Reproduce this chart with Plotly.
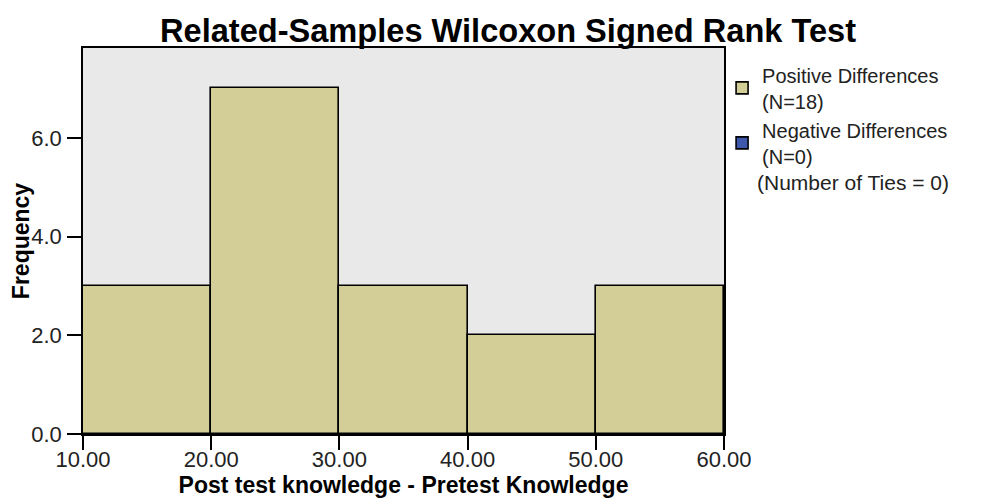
import plotly.graph_objects as go

bin_edges = [10, 20, 30, 40, 50, 60]
pos_counts = [3, 7, 3, 2, 3]
y_ticks = [0, 2, 4, 6]
x_ticks = [10, 20, 30, 40, 50, 60]

centers = [(a + b) / 2 for a, b in zip(bin_edges[:-1], bin_edges[1:])]
widths = [b - a for a, b in zip(bin_edges[:-1], bin_edges[1:])]

fig = go.Figure()
fig.add_trace(go.Bar(
    x=centers, y=pos_counts, width=widths,
    name="Positive Differences<br>(N=18)",
    marker=dict(color="#D3CE97", line=dict(color="#000000", width=1.6)),
))
fig.add_trace(go.Bar(
    x=[None], y=[None],
    name="Negative Differences<br>(N=0)",
    marker=dict(color="#3E58AC", line=dict(color="#000000", width=1.6)),
))

# page body has an 8px default margin, so the figure is drawn 8px smaller
fig.update_layout(
    width=989, height=491,
    paper_bgcolor="white",
    plot_bgcolor="#E9E9E9",
    margin=dict(l=75, r=273, t=40, b=65, autoexpand=False),
    font=dict(family="Liberation Sans, Arial", size=20, color="#222222"),
    title=dict(text="<b>Related-Samples Wilcoxon Signed Rank Test</b>",
               x=0.5056, xanchor="center", yref="container", y=0.955, yanchor="middle",
               font=dict(size=32.6, color="#000000")),
    barmode="overlay",
    bargap=0,
    showlegend=True,
    legend=dict(x=0.997, y=0.981, xanchor="left", yanchor="top",
                font=dict(size=20, color="#222222"),
                bgcolor="rgba(0,0,0,0)", tracegroupgap=0, itemwidth=30),
    annotations=[dict(text="(Number of Ties = 0)", xref="paper", yref="paper",
                      x=1.048, y=0.652, xanchor="left", yanchor="middle",
                      showarrow=False, font=dict(size=21, color="#222222"))],
)
fig.update_xaxes(
    range=[10, 60], tickvals=x_ticks, tickformat=".2f",
    ticks="outside", ticklen=14, tickwidth=1.5, tickcolor="#000000",
    ticklabelstandoff=-9,
    showline=True, linecolor="#000000", linewidth=1.5, mirror=True,
    showgrid=False, zeroline=False, automargin=False,
    tickfont=dict(size=22, color="#222222"),
    title=dict(text="<b>Post test knowledge - Pretest Knowledge</b>",
               font=dict(size=23, color="#000000"), standoff=2),
)
fig.update_yaxes(
    range=[0, 7.82], tickvals=y_ticks, tickformat=".1f",
    ticks="outside", ticklen=14, tickwidth=1.5, tickcolor="#000000",
    ticklabelstandoff=1,
    showline=True, linecolor="#000000", linewidth=1.5, mirror=True,
    showgrid=False, zeroline=False, automargin=False,
    tickfont=dict(size=22, color="#222222"),
    title=dict(text="<b>Frequency</b>", font=dict(size=23, color="#000000"), standoff=4),
)

fig.write_html("out.html")
